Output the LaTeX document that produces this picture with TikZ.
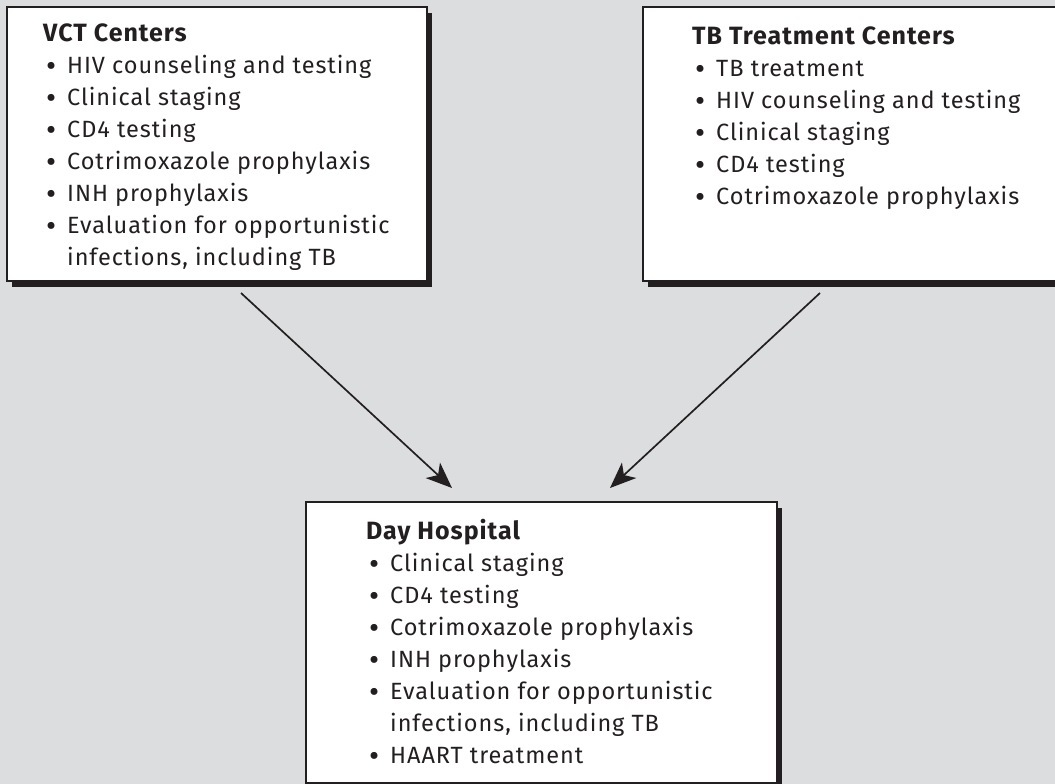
\documentclass[tikz,border=0pt]{standalone}
\usepackage{fontspec}
\setmainfont[LetterSpace=4]{Fira Sans}
\usetikzlibrary{shadows,arrows.meta,calc}
\definecolor{bg}{RGB}{220,221,223}
\definecolor{ink}{RGB}{35,31,32}
\newcommand\bdot{\raisebox{-3pt}{\fontsize{31pt}{31pt}\selectfont\textbullet}}
\newcommand\bul[1]{\hbox{\hspace*{3pt}\makebox[21pt][l]{\bdot}#1}}
\newcommand\cont[1]{\hbox{\hspace*{24pt}#1}}
\newcommand\ttl[1]{\hbox{\fontsize{25pt}{32pt}\selectfont\bfseries #1}}
\begin{document}
\begin{tikzpicture}[x=1pt,y=-1pt,
  box/.style={draw=ink, line width=1.1pt, fill=white, rectangle, inner sep=0pt, outer sep=0pt, anchor=north west,
    drop shadow={shadow xshift=5pt, shadow yshift=-6pt, fill=ink, opacity=1}},
  lst/.style={anchor=base west, inner sep=0pt, text=ink, font=\fontsize{23.5pt}{32pt}\selectfont},
  arr/.style={draw=ink, line width=1.7pt, -{Stealth[length=26pt,width=21pt,inset=7pt]}}]
\useasboundingbox (0,0) rectangle (1055,784);
\clip (0,0) rectangle (1055,784);
\fill[bg] (0,0) rectangle (1055,784);
\node[box, minimum width=420pt, minimum height=274pt] (vct) at (7,7) {};
\node[box, minimum width=430pt, minimum height=274pt] (tb) at (643,7) {};
\node[box, minimum width=471pt, minimum height=281pt] (dh) at (306,502) {};
\node[lst] (vcttxt) at (43,41.5) {\vtop{\ttl{VCT Centers}\bul{HIV counseling and testing}\bul{Clinical staging}\bul{CD4 testing}\bul{Cotrimoxazole prophylaxis}\bul{INH prophylaxis}\bul{Evaluation for opportunistic}\cont{infections, including TB}}};
\node[lst] (tbtxt) at (692,45) {\vtop{\ttl{TB Treatment Centers}\bul{TB treatment}\bul{HIV counseling and testing}\bul{Clinical staging}\bul{CD4 testing}\bul{Cotrimoxazole prophylaxis}}};
\node[lst] (dhtxt) at (366,539) {\vtop{\ttl{Day Hospital}\bul{Clinical staging}\bul{CD4 testing}\bul{Cotrimoxazole prophylaxis}\bul{INH prophylaxis}\bul{Evaluation for opportunistic}\cont{infections, including TB}\bul{HAART treatment}}};
\draw[arr] ($(vct.south west)+(234,12)$) -- ($(dh.north west)+(146,-14)$);
\draw[arr] ($(tb.south west)+(177,12)$) -- ($(dh.north west)+(304,-14)$);
\end{tikzpicture}
\end{document}
